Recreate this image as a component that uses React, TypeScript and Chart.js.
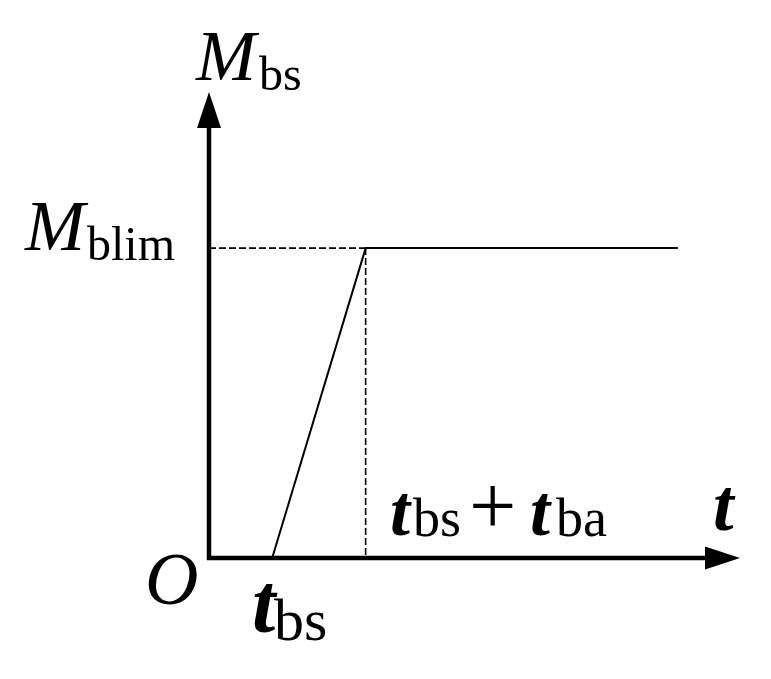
import React, { useEffect, useRef } from "react";
import { Chart, registerables } from "chart.js";

Chart.register(...registerables);

// Data (normalised units on a 0..10 x 0..10 domain)
const xDomain = [0, 10];
const yDomain = [0, 10];
const tBs = 1.19; // start of ramp (t_bs)
const tBsBa = 2.95; // end of ramp (t_bs + t_ba)
const tEnd = 8.83; // end of plateau
const mBlim = 6.65; // plateau level (M_blim)

const rampX = [tBs, tBsBa, tEnd];
const rampY = [0, mBlim, mBlim];
const dashHX = [0, tBsBa];
const dashHY = [mBlim, mBlim];
const dashVX = [tBsBa, tBsBa];
const dashVY = [mBlim, 0];

const SERIF = '"Liberation Serif", "Times New Roman", serif';

const annotPlugin = {
  id: "annot",
  afterDatasetsDraw(chart: any) {
    const { ctx, chartArea } = chart;
    const { left, right, top, bottom } = chartArea;
    ctx.save();
    ctx.fillStyle = "#000";
    ctx.strokeStyle = "#000";
    // axes
    ctx.lineWidth = 4.5;
    ctx.beginPath();
    ctx.moveTo(left, bottom + 2);
    ctx.lineTo(left, top + 34);
    ctx.moveTo(left - 2, bottom);
    ctx.lineTo(right - 33, bottom);
    ctx.stroke();
    // arrow heads
    ctx.beginPath();
    ctx.moveTo(left, top);
    ctx.lineTo(left - 12, top + 36);
    ctx.lineTo(left + 12, top + 36);
    ctx.closePath();
    ctx.fill();
    ctx.beginPath();
    ctx.moveTo(right, bottom);
    ctx.lineTo(right - 35, bottom - 11.5);
    ctx.lineTo(right - 35, bottom + 11.5);
    ctx.closePath();
    ctx.fill();

    ctx.textAlign = "left";
    ctx.textBaseline = "alphabetic";
    const txt = (s: string, font: string, x: number, y: number) => {
      ctx.font = font;
      ctx.fillText(s, x, y);
    };
    // M_bs
    txt("M", `italic 72px ${SERIF}`, 196, 80);
    txt("bs", `48px ${SERIF}`, 259, 90);
    // M_blim
    txt("M", `italic 72px ${SERIF}`, 25, 250);
    txt("blim", `48px ${SERIF}`, 87, 260);
    // O
    txt("O", `italic 74px ${SERIF}`, 145, 604);
    // t_bs
    txt("t", `bold italic 84px ${SERIF}`, 252, 632);
    txt("bs", `60px ${SERIF}`, 274, 640);
    // t_bs + t_ba
    txt("t", `bold italic 72px ${SERIF}`, 390, 535);
    txt("bs", `54px ${SERIF}`, 413, 536);
    txt("+", `84px ${SERIF}`, 469, 534);
    txt("t", `bold italic 72px ${SERIF}`, 530, 535);
    txt("ba", `54px ${SERIF}`, 556, 536);
    // axis t
    txt("t", `bold italic 74px ${SERIF}`, 713, 530);
    ctx.restore();
  },
};

export default function App() {
  const ref = useRef<HTMLCanvasElement | null>(null);
  useEffect(() => {
    if (!ref.current) return;
    const toPts = (xs: number[], ys: number[]) => xs.map((x, i) => ({ x, y: ys[i] }));
    const chart = new Chart(ref.current, {
      type: "scatter",
      data: {
        datasets: [
          {
            data: toPts(rampX, rampY),
            showLine: true,
            borderColor: "#000",
            borderWidth: 2,
            pointRadius: 0,
            clip: false as any,
          },
          {
            data: toPts(dashHX, dashHY),
            showLine: true,
            borderColor: "#000",
            borderWidth: 1.6,
            borderDash: [7, 3],
            pointRadius: 0,
            clip: false as any,
          },
          {
            data: toPts(dashVX, dashVY),
            showLine: true,
            borderColor: "#000",
            borderWidth: 1.6,
            borderDash: [7, 3],
            pointRadius: 0,
            clip: false as any,
          },
        ],
      },
      options: {
        animation: false,
        responsive: false,
        maintainAspectRatio: false,
        layout: { padding: { left: 209, top: 92, right: 31, bottom: 121 } },
        plugins: { legend: { display: false }, tooltip: { enabled: false } },
        scales: {
          x: { type: "linear", min: xDomain[0], max: xDomain[1], display: false },
          y: { type: "linear", min: yDomain[0], max: yDomain[1], display: false },
        },
      },
      plugins: [annotPlugin],
    });
    return () => chart.destroy();
  }, []);
  return (
    <div style={{ position: "fixed", left: 0, top: 0, width: 771, height: 679, background: "#fff" }}>
      <canvas ref={ref} width={771} height={679} style={{ width: 771, height: 679 }} />
    </div>
  );
}
